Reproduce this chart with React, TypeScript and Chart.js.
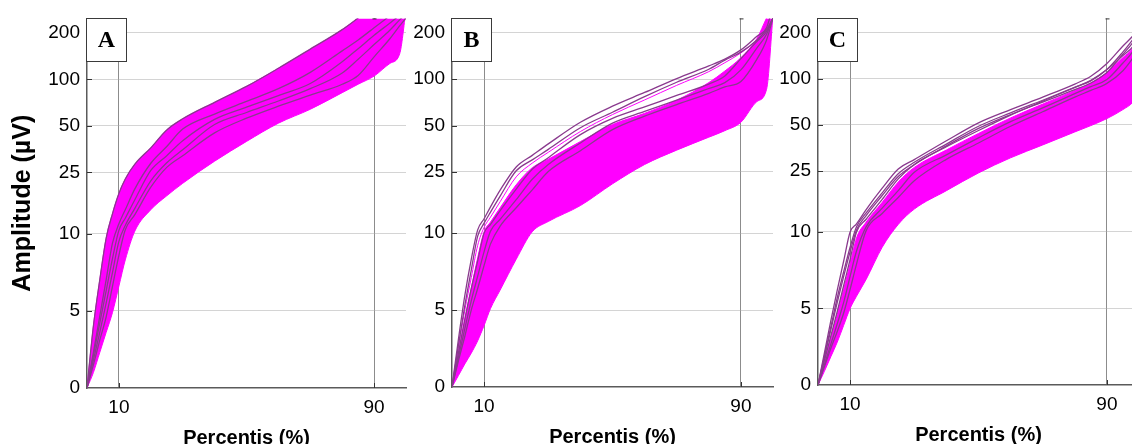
import React, { useEffect, useRef } from "react";
import { Chart, registerables } from "chart.js";
Chart.register(...registerables);

// ---------- data ----------
const PCT = [0, 2, 4, 6, 8, 10, 12, 15, 20, 25, 30, 40, 50, 60, 70, 80, 85, 90, 95, 98, 100];
const Y_TICKS = [0, 5, 10, 25, 50, 100, 200];
const X_TICKS = [10, 90];
const X_TITLE = "Percentis (%)";
const Y_TITLE = "Amplitude (µV)";

// Panel A (µV at each percentile)
const A_LOWER = [0, 1, 2.3, 3.6, 4.9, 6.6, 8.3, 10.4, 14.3, 17.6, 21.2, 29.5, 39.6, 52, 64, 82, 93, 105, 127, 146, 280];
const A_UPPER = [0, 4, 7, 9.7, 13.5, 18.2, 22.6, 28.2, 36, 47, 55.5, 71, 90, 118, 157, 210, 250, 300, 350, 400, 450];
const A_LINE_1 = [0, 2.3, 4.65, 7, 9.4, 11.6, 14.3, 19.5, 28.6, 36.7, 47.6, 59.6, 72, 87, 111, 153, 180, 216, 260, 300, 350];
const A_LINE_2 = [0, 2.1, 4.2, 6.3, 8.4, 10.5, 12.6, 16.6, 25.7, 32, 40, 55, 66, 78.5, 94, 130, 158, 193, 232, 260, 282];
const A_LINE_3 = [0, 1.8, 3.6, 5.5, 7.5, 9.5, 11.3, 14.6, 22, 28.8, 35, 51, 61, 72.4, 87, 110, 135, 168, 209, 243, 266];
const A_LINE_4 = [0, 1.5, 3.1, 4.6, 6.6, 8.6, 10.6, 13.3, 20, 26.9, 32, 45, 56, 67, 79, 93, 106, 140, 184, 222, 250];

// Panel B
const B_LOWER = [0, 0.74, 1.5, 2.2, 3.0, 4.0, 5.1, 6.3, 8.3, 10.2, 11.9, 15.1, 20.9, 27.9, 34.6, 42, 46.3, 52.5, 71.6, 86, 260];
const B_UPPER = [0, 2.2, 4.4, 6.4, 8.4, 10.2, 11.8, 14.6, 20.6, 26.6, 30.2, 39.3, 50.7, 60, 73, 95, 113, 138, 184, 250, 300];
const B_TOP = [0, 3.1, 5.95, 8.3, 10.5, 12.4, 14.8, 19, 26.9, 32, 38, 52.5, 66.8, 82, 101, 122, 135, 155, 190, 216, 300];
const B_MAG = [0, 2.5, 5, 7.1, 9.2, 10.9, 12.7, 16, 23.2, 28.5, 33.5, 45.7, 58.9, 73.3, 91.2, 112, 128, 148, 178, 200, 250];
const B_LINE_1 = [0, 2.7, 5.3, 7.6, 9.8, 11.6, 13.7, 17.4, 25.4, 29.9, 35, 48.4, 61, 77, 95.5, 116, 133, 150, 180, 210, 250];
const B_LINE_2 = [0, 2.2, 4.4, 6.4, 8.2, 10, 11.4, 14, 19.3, 26, 30.9, 43.6, 55.6, 66, 78.5, 93, 105, 136, 176, 204, 250];
const B_LINE_3 = [0, 1.9, 3.8, 5.6, 7.2, 8.8, 10.3, 12.3, 16.5, 22.4, 27.9, 38.5, 51.8, 61.7, 73, 87, 95, 115, 160, 196, 250];
const B_LINE_4 = [0, 1.7, 3.3, 5, 6.4, 7.9, 9.3, 11.1, 14.6, 19.1, 25.1, 34.3, 47, 57.5, 68.4, 81, 89, 96.6, 135, 180, 250];

// Panel C
const C_LOWER = [0, 0.9, 1.85, 2.8, 3.9, 5, 5.8, 6.9, 9, 11.2, 14.1, 18.6, 24.3, 30.5, 37, 45, 49.5, 55, 63, 70, 80];
const C_UPPER = [0, 1.55, 3.1, 4.6, 6.25, 7.9, 9.6, 11.6, 15.6, 21.2, 26.4, 34.3, 44, 55.6, 68.4, 84, 94, 110, 138, 158, 188];
const C_TOP_1 = [0, 2.1, 4.2, 6.2, 8.1, 10, 11.3, 14, 19.3, 25.8, 29.7, 39.4, 51.6, 63, 76, 92.5, 104, 126, 164, 190, 214];
const C_TOP_2 = [0, 1.9, 3.8, 5.7, 7.4, 9, 10.8, 13.3, 18, 24, 28.5, 37.5, 49, 60, 72.5, 88, 97, 115, 150, 180, 205];
const C_TOP_3 = [0, 1.8, 3.6, 5.4, 7.1, 8.7, 10.3, 12.8, 17.3, 23, 27.5, 36.5, 47.5, 58.5, 70.5, 85, 94, 110, 145, 172, 200];
const C_LINE_1 = [0, 1.6, 3.2, 4.8, 6.5, 8.2, 10, 12.1, 16.3, 22.2, 27.6, 36, 46, 58, 71.5, 88, 98, 115, 142, 162, 192];
const C_LINE_2 = [0, 1.33, 2.67, 4, 5.4, 7.1, 8.75, 10.8, 14.3, 18.6, 24.5, 31.9, 41.2, 52.5, 64.6, 80, 89, 99, 127, 150, 178];
const C_LINE_3 = [0, 1.2, 2.4, 3.5, 4.7, 6.25, 7.9, 10.2, 13.2, 16.8, 21.6, 29.8, 38.1, 49, 61, 76, 84, 93.4, 113, 136, 158];

// ---------- styling ----------
const MAGENTA = "#ff00ff";
const PURPLE = "#8a3a8e";
const SANS = '"Liberation Sans", Arial, sans-serif';
const SERIF = '"Liberation Serif", "Times New Roman", serif';
const Y_MAX = 4.79;

// piecewise amplitude axis: linear below 10 µV, logarithmic above
const tf = (v: number) => (v <= 10 ? v / 5 : 2 + 2 * Math.log10(v / 10));

type PanelCfg = {
  label: string;
  left: number;
  width: number;
  axisWidth: number;
  top: number;
  bottom: number;
  rightPad: number;
  lower: number[];
  upper: number[];
  magenta: number[][];
  purple: number[][];
  yTitle: boolean;
};

const PANELS: PanelCfg[] = [
  {
    label: "A", left: 0, width: 412, axisWidth: 87, top: 16, bottom: 388, rightPad: 6,
    lower: A_LOWER, upper: A_UPPER, magenta: [],
    purple: [A_UPPER, A_LINE_1, A_LINE_2, A_LINE_3, A_LINE_4], yTitle: true,
  },
  {
    label: "B", left: 406, width: 374, axisWidth: 46, top: 16, bottom: 387, rightPad: 7,
    lower: B_LOWER, upper: B_UPPER, magenta: [B_MAG],
    purple: [B_TOP, B_LINE_1, B_LINE_2, B_LINE_3, B_LINE_4], yTitle: false,
  },
  {
    label: "C", left: 778, width: 367, axisWidth: 40, top: 16, bottom: 385, rightPad: 6,
    lower: C_LOWER, upper: C_UPPER, magenta: [],
    purple: [C_TOP_1, C_TOP_2, C_TOP_3, C_LINE_1, C_LINE_2, C_LINE_3], yTitle: false,
  },
];

function decor(letter: string) {
  return {
    id: "decor",
    afterDatasetsDraw(chart: any) {
      const { ctx, chartArea, scales } = chart;
      const { left, top, bottom } = chartArea;
      const x = scales.x;
      const y = scales.y;
      ctx.save();
      ctx.strokeStyle = "#333";
      ctx.lineWidth = 1;
      const seg = (x1: number, y1: number, x2: number, y2: number) => {
        ctx.beginPath();
        ctx.moveTo(x1, y1);
        ctx.lineTo(x2, y2);
        ctx.stroke();
      };
      Y_TICKS.forEach((v) => {
        if (v === 0) return;
        const py = Math.round(y.getPixelForValue(tf(v))) + 0.5;
        seg(left, py, left + 5, py);
      });
      X_TICKS.forEach((v) => {
        const px = Math.round(x.getPixelForValue(v)) + 0.5;
        seg(px, bottom, px, bottom - 5);
        seg(px - 2, top + 0.5, px + 2, top + 0.5);
      });
      // label box
      const bx = Math.round(left) - 1;
      const by = Math.round(top);
      ctx.fillStyle = "#fff";
      ctx.fillRect(bx, by, 40, 43);
      ctx.strokeStyle = "#3a3a3a";
      ctx.strokeRect(bx + 0.5, by + 0.5, 40, 43);
      ctx.fillStyle = "#000";
      ctx.font = `bold 24px ${SERIF}`;
      ctx.textAlign = "center";
      ctx.textBaseline = "middle";
      ctx.fillText(letter, bx + 20.5, by + 23);
      ctx.restore();
    },
  };
}

function Panel({ cfg }: { cfg: PanelCfg }) {
  const ref = useRef<HTMLCanvasElement>(null);
  const height = cfg.bottom + 62;
  useEffect(() => {
    const toPts = (vals: number[]) => PCT.map((p, i) => ({ x: p, y: tf(vals[i]) }));
    const line = (vals: number[], color: string, w: number) => ({
      data: toPts(vals),
      borderColor: color,
      borderWidth: w,
      pointRadius: 0,
      fill: false as any,
      cubicInterpolationMode: "monotone" as const,
    });
    const datasets: any[] = [
      ...cfg.purple.map((v) => line(v, PURPLE, 1.3)),
      ...cfg.magenta.map((v) => line(v, MAGENTA, 1)),
      line(cfg.lower, MAGENTA, 1),
      { ...line(cfg.upper, MAGENTA, 1), fill: "-1", backgroundColor: MAGENTA },
    ];
    const chart = new Chart(ref.current as HTMLCanvasElement, {
      type: "line",
      data: { datasets },
      options: {
        animation: false,
        responsive: false,
        maintainAspectRatio: false,
        layout: { padding: { top: cfg.top, right: cfg.rightPad, left: 0, bottom: 0 } },
        plugins: { legend: { display: false }, tooltip: { enabled: false } },
        scales: {
          x: {
            type: "linear",
            min: 0,
            max: 100,
            afterBuildTicks: (s: any) => {
              s.ticks = X_TICKS.map((v) => ({ value: v }));
            },
            afterFit: (s: any) => {
              s.height = height - cfg.bottom;
            },
            grid: { color: "#8c8c8c", lineWidth: 1, drawTicks: false },
            border: { display: true, color: "#5a5a5a", width: 1.5 },
            ticks: {
              font: { family: SANS, size: 19 },
              color: "#000",
              padding: 8,
              maxRotation: 0,
              autoSkip: false,
              callback: (v: any) => String(v),
            },
            title: {
              display: true,
              text: X_TITLE,
              color: "#000",
              font: { family: SANS, size: 20, weight: "bold" },
              padding: { top: 0, bottom: 0 },
            },
          },
          y: {
            type: "linear",
            min: 0,
            max: Y_MAX,
            afterBuildTicks: (s: any) => {
              s.ticks = Y_TICKS.map((v) => ({ value: tf(v) }));
            },
            afterFit: (s: any) => {
              s.width = cfg.axisWidth;
            },
            grid: {
              color: (c: any) => (c.tick && c.tick.value === 0 ? "rgba(0,0,0,0)" : "#a8a8a8"),
              lineWidth: 1,
              drawTicks: false,
            },
            border: { display: true, color: "#5a5a5a", width: 1.5, dash: [1, 1] },
            ticks: {
              font: { family: SANS, size: 19 },
              color: "#000",
              padding: 7,
              autoSkip: false,
              callback: (_v: any, i: number) => String(Y_TICKS[i]),
            },
            title: {
              display: cfg.yTitle,
              text: Y_TITLE,
              color: "#000",
              font: { family: SANS, size: 25, weight: "bold" },
              padding: { top: 8, bottom: 0 },
            },
          },
        },
      } as any,
      plugins: [decor(cfg.label)],
    });
    return () => chart.destroy();
  }, []);
  return (
    <canvas
      ref={ref}
      width={cfg.width}
      height={height}
      style={{ position: "absolute", left: cfg.left, top: 0, width: cfg.width, height }}
    />
  );
}

export default function App() {
  return (
    <div
      style={{
        position: "absolute",
        left: 0,
        top: 0,
        width: 1132,
        height: 444,
        overflow: "hidden",
        background: "#fff",
      }}
    >
      {PANELS.map((p) => (
        <Panel key={p.label} cfg={p} />
      ))}
    </div>
  );
}
